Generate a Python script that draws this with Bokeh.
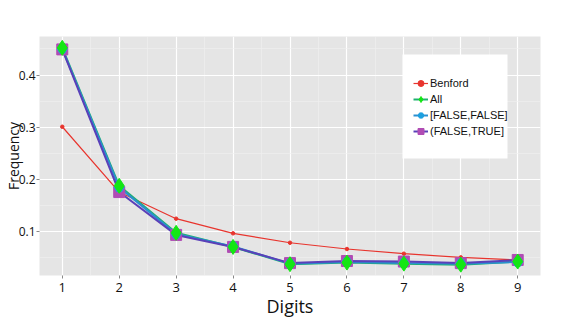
from bokeh.plotting import figure
from bokeh.models import FixedTicker, Legend, LegendItem, Range1d, BoxAnnotation
from bokeh.embed import file_html
from bokeh.resources import INLINE

digits = [1, 2, 3, 4, 5, 6, 7, 8, 9]
benford = [0.301, 0.176, 0.125, 0.097, 0.079, 0.067, 0.058, 0.051, 0.046]
all_vals = [0.452, 0.188, 0.098, 0.071, 0.038, 0.041, 0.039, 0.037, 0.043]
ff_vals = [0.450, 0.185, 0.096, 0.072, 0.039, 0.042, 0.040, 0.039, 0.042]
ft_vals = [0.449, 0.176, 0.094, 0.071, 0.040, 0.044, 0.043, 0.040, 0.046]
y_ticks = [0.1, 0.2, 0.3, 0.4]
y_minor = [0.05, 0.15, 0.25, 0.35, 0.45]
x_minor = [1.5, 2.5, 3.5, 4.5, 5.5, 6.5, 7.5, 8.5]

p = figure(width=570, height=320, output_backend="svg", toolbar_location=None,
           x_range=Range1d(0.6, 9.4), y_range=Range1d(0.0163, 0.4737),
           min_border_left=10, min_border_right=30, min_border_top=36, min_border_bottom=10)
p.background_fill_color = "#e5e5e5"
p.border_fill_color = "white"
p.outline_line_color = None

p.xaxis.ticker = FixedTicker(ticks=digits, minor_ticks=x_minor)
p.yaxis.ticker = FixedTicker(ticks=y_ticks, minor_ticks=y_minor)
p.yaxis.major_label_overrides = {0.1: "0.1", 0.2: "0.2", 0.3: "0.3", 0.4: "0.4"}

for ax in [p.xaxis[0], p.yaxis[0]]:
    ax.axis_line_color = None
    ax.major_tick_line_color = "#888888"
    ax.major_tick_in = 0
    ax.major_tick_out = 3
    ax.minor_tick_line_color = None
    ax.major_label_text_font = "Open Sans"
    ax.major_label_text_color = "#111111"
    ax.axis_label_text_font = "Open Sans"
    ax.axis_label_text_font_style = "normal"
    ax.axis_label_text_color = "#111111"

p.xaxis.major_label_text_font_size = "13px"
p.yaxis.major_label_text_font_size = "12px"
p.xaxis.major_label_standoff = 3
p.yaxis.major_label_standoff = 0
p.xaxis.axis_label = "Digits"
p.xaxis.axis_label_text_font_size = "18px"
p.xaxis.axis_label_standoff = -1
p.yaxis.axis_label = "Frequency"
p.yaxis.axis_label_text_font_size = "14px"
p.yaxis.axis_label_standoff = -7

p.xgrid.grid_line_color = "white"
p.ygrid.grid_line_color = "white"
p.xgrid.grid_line_width = 1.2
p.ygrid.grid_line_width = 1.2
p.xgrid.minor_grid_line_color = "#f0f0f0"
p.ygrid.minor_grid_line_color = "#f0f0f0"
p.xgrid.minor_grid_line_width = 0.6
p.ygrid.minor_grid_line_width = 0.6

l1 = p.line(digits, benford, line_color="#e8352e", line_width=1.2)
s1 = p.scatter(digits, benford, marker="circle", size=3.5, fill_color="#e8352e", line_color="#e8352e")

l2 = p.line(digits, all_vals, line_color="#20b070", line_width=2)
l3 = p.line(digits, ff_vals, line_color="#2a8fd0", line_width=2)
l4 = p.line(digits, ft_vals, line_color="#5a40b8", line_width=2)

s4 = p.scatter(digits, ft_vals, marker="square", size=11, fill_color="#b04cb4", line_color="#b04cb4")
s3 = p.scatter(digits, ff_vals, marker="hex", size=10, fill_color="#1ca0e0", line_color="#1ca0e0")
s2 = p.scatter(digits, all_vals, marker="diamond", size=15, fill_color="#14e614", line_color="#14e614")

# white legend panel (canvas pixels)
panel = BoxAnnotation(left=402, right=507, top=54, bottom=158,
                      left_units="canvas", right_units="canvas",
                      top_units="canvas", bottom_units="canvas",
                      fill_color="white", fill_alpha=1, line_color=None)
p.add_layout(panel)

legend = Legend(items=[
    LegendItem(label="Benford", renderers=[l1, s1]),
    LegendItem(label="All", renderers=[l2, s2]),
    LegendItem(label="[FALSE,FALSE]", renderers=[l3, s3]),
    LegendItem(label="(FALSE,TRUE]", renderers=[l4, s4]),
], location=(374, 136))
legend.background_fill_alpha = 0
legend.border_line_color = None
legend.label_text_font = "Liberation Sans"
legend.label_text_font_size = "11px"
legend.label_text_color = "#111111"
legend.glyph_width = 15
legend.glyph_height = 16
legend.label_height = 16
legend.spacing = 0
legend.padding = 0
legend.margin = 0
legend.label_standoff = 2
p.add_layout(legend)

open("out.html", "w").write(file_html(p, INLINE))
